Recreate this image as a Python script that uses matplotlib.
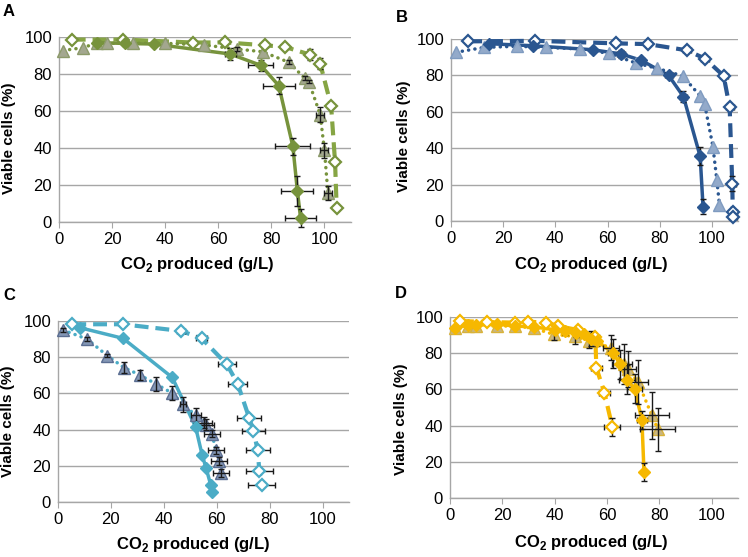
import matplotlib
matplotlib.use('Agg')
import matplotlib.pyplot as plt
import numpy as np

plt.rcParams['font.family'] = ['Liberation Sans', 'DejaVu Sans']
plt.rcParams['mathtext.fontset'] = 'custom'
plt.rcParams['mathtext.rm'] = 'Liberation Sans'
plt.rcParams['mathtext.bf'] = 'Liberation Sans:bold'
plt.rcParams['lines.scale_dashes'] = False

# ---------------- Panel A ----------------
a_solid_x = [14.2, 25, 35.8, 64.5, 76, 82.8, 88.1, 89.8, 91]
a_solid_y = [97, 96.5, 96.2, 90.8, 84.7, 73.7, 40.9, 16.8, 2.2]
a_solid_xerr = [0, 0, 0, 2, 4.7, 6, 6.6, 6, 6]
a_solid_yerr = [0, 0, 0, 3, 3, 4.5, 4.5, 8, 5]

a_tri_x = [1.6, 8.9, 14.5, 17.9, 27.7, 39.8, 54.5, 67, 76.8, 86.6, 92.5, 94.1, 98.4, 100, 101.3]
a_tri_y = [92.7, 94.2, 96.8, 96.6, 96.6, 96.6, 95.7, 93.5, 92, 86.3, 77.8, 75.9, 58, 38.7, 15.7]
a_tri_xerr = [0, 0, 0, 0, 0, 0, 0, 0, 0, 0, 0, 0, 1.5, 1.5, 1.5]
a_tri_yerr = [0, 0, 0, 0, 0, 0, 0, 1, 0, 1, 1, 1, 4, 4, 4]

a_open_x = [4.8, 24.2, 50.5, 62.5, 77.7, 85.2, 94.5, 98.4, 102.5, 104, 104.6]
a_open_y = [98.6, 98.6, 97, 97.1, 95.5, 94.6, 90.5, 85.6, 62.9, 32.3, 7.6]
a_open_xerr = [0, 0, 0, 1, 1, 0, 1, 0, 0, 0, 0]
a_open_yerr = [0, 0, 0, 1, 1, 0, 3, 3, 0, 0, 0]

# ---------------- Panel B ----------------
b_solid_x = [14.7, 31.4, 54.3, 65.1, 72.9, 83.4, 89.1, 95.5, 96.6]
b_solid_y = [97.4, 96.3, 94.1, 91.8, 88.3, 80, 68.3, 35.5, 7.9]
b_solid_xerr = [0, 0, 1, 1.5, 1, 1.5, 1.5, 0, 0]
b_solid_yerr = [0, 0, 1, 2, 1, 1, 3, 5, 4]

b_tri_x = [1.9, 12.8, 25.3, 36.5, 49.3, 60.7, 70.8, 79, 88.8, 95.5, 97.2, 100.4, 101.9, 102.9]
b_tri_y = [92.7, 95.4, 96, 95.4, 94.5, 92.1, 86.8, 83.9, 79.7, 68.7, 64.3, 40.8, 22.3, 8.8]
b_tri_xerr = [0] * 14
b_tri_yerr = [0] * 14

b_open_x = [6.6, 32.3, 63.2, 75.4, 90.4, 97.4, 104.5, 106.8, 107.8, 108, 108]
b_open_y = [98.7, 99, 97.6, 97.2, 93.8, 89.2, 79.7, 62.5, 20.5, 4.8, 2.2]
b_open_xerr = [0, 0, 0, 0, 1.5, 1.5, 1.5, 1.5, 1.5, 1.5, 1.5]
b_open_yerr = [0, 0, 0, 0, 0, 0, 0, 1, 4, 1, 0]

# ---------------- Panel C ----------------
c_solid_x = [8.3, 24.6, 43.2, 52, 54.5, 56, 57.7, 58.2]
c_solid_y = [96.3, 90.4, 68.8, 41.5, 25.9, 18.6, 9.6, 5.5]
c_solid_xerr = [0] * 8
c_solid_yerr = [0] * 8

c_tri_x = [1.9, 11, 18.6, 24.9, 30.9, 37.2, 43.2, 47.3, 52.1, 55.2, 56, 58.2, 59.7, 60.9, 61.6]
c_tri_y = [95, 90, 80.9, 74.3, 70.2, 65.1, 60.1, 54, 47.8, 43.9, 42.6, 37.7, 28.5, 22.6, 16]
c_tri_xerr = [0, 0, 0, 0, 0, 0, 0, 1, 2, 3, 3, 3, 3, 3, 3]
c_tri_yerr = [1, 1, 1, 3, 3, 4, 4, 4, 4, 3, 3, 2, 2, 2, 2]

c_open_x = [5.4, 24.4, 46.5, 54.3, 63.8, 67.9, 72.3, 73.9, 75.5, 76.1, 77]
c_open_y = [98.2, 98.2, 94.5, 90.4, 76.1, 65.4, 46.3, 39.2, 28.5, 17.3, 9.6]
c_open_xerr = [0, 0, 1.5, 2, 3.5, 3.5, 4.5, 4.5, 4.5, 5, 5]
c_open_yerr = [0] * 11

# ---------------- Panel D ----------------
d_solid_x = [2, 7, 10, 18, 25, 32, 40, 44, 48, 51, 54, 56, 62.3, 65, 67.7, 70.5, 73.3, 74.1]
d_solid_y = [94, 95.5, 95.5, 96, 95, 94.5, 93, 92, 91, 90.5, 88, 87, 80, 74, 65.3, 60.3, 43.2, 14.3]
d_solid_xerr = [0, 0, 0, 0, 0, 0, 0, 0, 0, 0, 0, 0, 2, 3, 3, 3, 2, 0]
d_solid_yerr = [0, 0, 0, 0, 0, 0, 0, 2, 2, 0, 4, 3, 8, 8, 8, 8, 5, 5]

d_tri_x = [1.8, 7, 10, 18, 25, 32, 39.6, 47.6, 53.2, 61.6, 66.6, 67.9, 71.8, 77.1, 79.4]
d_tri_y = [93.9, 95, 95, 95, 95, 93.8, 90.4, 89.3, 86.9, 83, 74.2, 71.1, 64.1, 45.7, 37.9]
d_tri_xerr = [0, 0, 0, 0, 0, 0, 0, 0, 0, 3, 3, 3, 4, 6.4, 6.7]
d_tri_yerr = [0, 0, 0, 0, 0, 0, 3, 4, 4, 7, 11, 10, 12, 13, 12]

d_open_x = [3.8, 14, 25, 29.7, 36.8, 41.3, 48.8, 55.5, 55.9, 59, 62]
d_open_y = [97.8, 97.2, 96.9, 97.4, 96.9, 95, 92.8, 89, 72, 58, 39.2]
d_open_xerr = [0, 0, 0, 0, 0, 0, 0, 0, 2, 2, 3]
d_open_yerr = [0, 0, 0, 0, 0, 0, 0, 0, 0, 0, 5]

x_ticks = [0, 20, 40, 60, 80, 100]
y_ticks = [0, 20, 40, 60, 80, 100]
panel_letters = ['A', 'B', 'C', 'D']
x_label = r'CO$_{\mathbf{2}}$ produced (g/L)'
y_label = 'Viable cells (%)'

W, H = 748, 557
fig = plt.figure(figsize=(W / 100, H / 100), dpi=100)


def px_axes(l, t, r, b):
    return fig.add_axes([l / W, 1 - b / H, (r - l) / W, (b - t) / H])


axA = px_axes(59, 37, 351, 222)
axB = px_axes(451, 39, 738, 221)
axC = px_axes(58, 321, 349, 502)
axD = px_axes(450, 317, 738, 498)

grid_col = '#A6A6A6'


def style(ax):
    ax.set_xlim(0, 110)
    ax.set_ylim(0, 100)
    ax.set_xticks(x_ticks)
    ax.set_yticks(y_ticks)
    ax.set_xticklabels([str(v) for v in x_ticks])
    ax.set_yticklabels([str(v) for v in y_ticks])
    for s in ['top', 'right']:
        ax.spines[s].set_visible(False)
    for s in ['left', 'bottom']:
        ax.spines[s].set_color(grid_col)
        ax.spines[s].set_linewidth(1)
    ax.yaxis.grid(True, color=grid_col, linewidth=1)
    ax.set_axisbelow(True)
    ax.tick_params(axis='x', direction='out', length=4, color=grid_col, labelsize=12, pad=3)
    ax.tick_params(axis='y', length=0, labelsize=12, pad=5)


def errbars(ax, x, y, xe, ye):
    x = np.asarray(x, float); y = np.asarray(y, float)
    xe = np.asarray(xe, float); ye = np.asarray(ye, float)
    m = xe > 0
    if m.any():
        ax.errorbar(x[m], y[m], xerr=xe[m], fmt='none', ecolor='#1a1a1a',
                    elinewidth=1.0, capsize=2.5, capthick=1.0, zorder=4.5, clip_on=False)
    m = ye > 0
    if m.any():
        ax.errorbar(x[m], y[m], yerr=ye[m], fmt='none', ecolor='#1a1a1a',
                    elinewidth=1.0, capsize=2.5, capthick=1.0, zorder=4.5, clip_on=False)


def panel(ax, col, dash_col, tri_fill, tri_edge, solid, tri, opn):
    sx, sy, sxe, sye = solid
    tx, ty, txe, tye = tri
    ox, oy, oxe, oye = opn
    # dashed open diamonds
    ax.plot(ox, oy, color=dash_col, lw=3, linestyle=(0, (10, 5)), zorder=3, clip_on=False)
    ax.plot(ox, oy, linestyle='none', marker='D', markersize=6.5, markerfacecolor='white',
            markeredgecolor=col, markeredgewidth=1.6, zorder=5, clip_on=False)
    # dotted triangles
    ax.plot(tx, ty, color=col, lw=2.5, linestyle=(0, (0.1, 4.5)), dash_capstyle='round',
            zorder=3, clip_on=False)
    ax.plot(tx, ty, linestyle='none', marker='^', markersize=8, markerfacecolor=tri_fill,
            markeredgecolor=tri_edge, markeredgewidth=1, zorder=4, clip_on=False)
    # solid diamonds
    ax.plot(sx, sy, color=col, lw=2.5, linestyle='-', zorder=3, clip_on=False)
    ax.plot(sx, sy, linestyle='none', marker='D', markersize=6.5, markerfacecolor=col,
            markeredgecolor=col, markeredgewidth=1, zorder=5, clip_on=False)
    errbars(ax, sx, sy, sxe, sye)
    errbars(ax, tx, ty, txe, tye)
    errbars(ax, ox, oy, oxe, oye)


panel(axA, '#77933C', '#86A544', '#A3A78F', '#8C9A6A',
      (a_solid_x, a_solid_y, a_solid_xerr, a_solid_yerr),
      (a_tri_x, a_tri_y, a_tri_xerr, a_tri_yerr),
      (a_open_x, a_open_y, a_open_xerr, a_open_yerr))
panel(axB, '#2A5690', '#2A5690', '#93AACA', '#7F9BC0',
      (b_solid_x, b_solid_y, b_solid_xerr, b_solid_yerr),
      (b_tri_x, b_tri_y, b_tri_xerr, b_tri_yerr),
      (b_open_x, b_open_y, b_open_xerr, b_open_yerr))
panel(axC, '#4BACC6', '#4BACC6', '#8497B5', '#5B6E92',
      (c_solid_x, c_solid_y, c_solid_xerr, c_solid_yerr),
      (c_tri_x, c_tri_y, c_tri_xerr, c_tri_yerr),
      (c_open_x, c_open_y, c_open_xerr, c_open_yerr))
panel(axD, '#F6B800', '#F6B800', '#C9B681', '#D8B23A',
      (d_solid_x, d_solid_y, d_solid_xerr, d_solid_yerr),
      (d_tri_x, d_tri_y, d_tri_xerr, d_tri_yerr),
      (d_open_x, d_open_y, d_open_xerr, d_open_yerr))

for ax in [axA, axB, axC, axD]:
    style(ax)


def ftext(x, y, s, **kw):
    fig.text(x / W, 1 - y / H, s, **kw)


# panel letters
for (lx, ly), letter in zip([(3, 12), (396, 17), (3, 296), (395, 294)], panel_letters):
    ftext(lx, ly, letter, fontsize=12, fontweight='bold', ha='left', va='center')

# y labels
for (lx, ly) in [(9, 138), (404, 136), (8, 421), (401, 419)]:
    ftext(lx, ly, y_label, fontsize=11, fontweight='bold', rotation=90, ha='center', va='center')

# x labels
for (lx, ly) in [(197, 265), (591, 265), (193, 544), (591, 543)]:
    ftext(lx, ly, x_label, fontsize=12, fontweight='bold', ha='center', va='center')

fig.savefig('out.png', dpi=100)
